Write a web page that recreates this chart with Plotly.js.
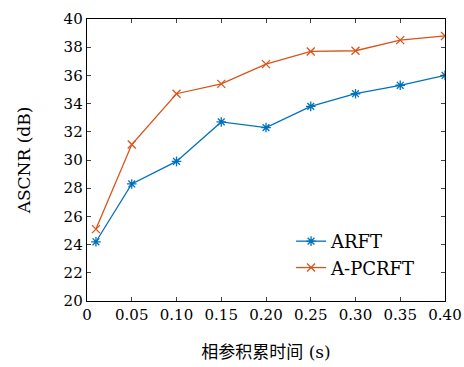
<!DOCTYPE html>
<html>
<head>
<meta charset="utf-8">
<script src="https://cdn.plot.ly/plotly-3.0.1.min.js"></script>
<style>html,body{margin:0;padding:0;background:#fff;}#chart{width:464px;height:367px;}</style>
</head>
<body>
<div id="chart"></div>
<script>
const xValues = [0.01, 0.05, 0.10, 0.15, 0.20, 0.25, 0.30, 0.35, 0.40];
const arft = [24.2, 28.3, 29.9, 32.7, 32.3, 33.8, 34.7, 35.3, 36.0];
const apcrft = [25.1, 31.1, 34.7, 35.4, 36.8, 37.7, 37.75, 38.5, 38.8];
const xTickVals = [0, 0.05, 0.10, 0.15, 0.20, 0.25, 0.30, 0.35, 0.40];
const xTickText = ["0", "0.05", "0.10", "0.15", "0.20", "0.25", "0.30", "0.35", "0.40"];
const yTickVals = [20, 22, 24, 26, 28, 30, 32, 34, 36, 38, 40];

const font = "DejaVu Serif, Liberation Serif, Times New Roman, serif";
const traces = [
  {x: xValues, y: arft, name: "ARFT", mode: "lines+markers", type: "scatter",
   line: {color: "#0072BD", width: 1.3},
   marker: {symbol: "asterisk-open", size: 8, color: "#0072BD", line: {color: "#0072BD", width: 1.3}}},
  {x: xValues, y: apcrft, name: "A-PCRFT", mode: "lines+markers", type: "scatter",
   line: {color: "#D95319", width: 1.3},
   marker: {symbol: "x-thin-open", size: 8, color: "#D95319", line: {color: "#D95319", width: 1.3}}}
];
const layout = {
  width: 464, height: 367,
  margin: {l: 87, r: 19, t: 19, b: 66},
  paper_bgcolor: "#fff", plot_bgcolor: "#fff",
  font: {family: font, size: 15, color: "#000"},
  showlegend: true,
  legend: {x: 0.57, y: 0.165, xanchor: "left", yanchor: "middle", bgcolor: "rgba(0,0,0,0)",
           font: {family: font, size: 18}, tracegroupgap: 0, itemwidth: 30},
  xaxis: {range: [0, 0.40], tickvals: xTickVals, ticktext: xTickText,
          ticks: "inside", ticklen: 4, mirror: "ticks", showline: true, linecolor: "#000", linewidth: 1.3,
          showgrid: false, zeroline: false, tickfont: {family: font, size: 15},
          title: {text: "<span style='font-family:Noto Sans CJK SC'>相参积累时间</span> (s)", font: {family: font, size: 17}, standoff: 22}},
  yaxis: {range: [20, 40], tickvals: yTickVals,
          ticks: "inside", ticklen: 4, mirror: "ticks", showline: true, linecolor: "#000", linewidth: 1.3,
          showgrid: false, zeroline: false, tickfont: {family: font, size: 15},
          title: {text: "ASCNR (dB)", font: {family: font, size: 17}, standoff: 28}}
};
Plotly.newPlot("chart", traces, layout, {displayModeBar: false, staticPlot: true});
</script>
</body>
</html>
